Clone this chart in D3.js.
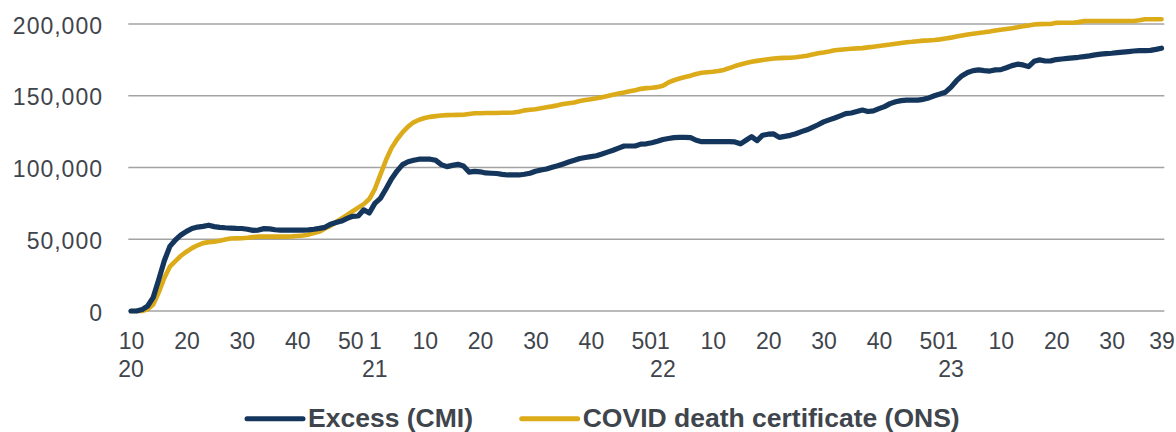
<!DOCTYPE html>
<html>
<head>
<meta charset="utf-8">
<script src="https://cdn.jsdelivr.net/npm/d3@7"></script>
<style>
  body { margin: 0; background: #fff; }
  svg { display: block; font-family: "Liberation Sans", Arial, sans-serif; }
</style>
</head>
<body>
<div id="canvas"></div>
<script>
// weeks shown per year (ISO weeks, 2020 has 53)
const years = ["20", "21", "22", "23"];
const firstWeek = [10, 1, 1, 1];
const lastWeek = [53, 52, 52, 39];
const tickWeeks = [1, 10, 20, 30, 40, 50];
const yTicks = [0, 50000, 100000, 150000, 200000];

// cumulative excess deaths (CMI)
const excess20 = [0, 0, 1000, 3500, 9500, 22000, 35000, 45000, 49500, 53000,
  55500, 57500, 58500, 59000, 59800, 58800, 58300, 58000, 57800, 57600,
  57500, 57000, 56200, 56400, 57400, 57200, 56600, 56300, 56300, 56300,
  56300, 56300, 56500, 57000, 57600, 58300, 60500, 61700, 62700, 64500,
  66000, 66200, 70500, 68300];
const excess21 = [75000, 78500, 85000, 92000, 97500, 102000, 104000, 105000, 105800, 105800,
  105800, 105000, 102000, 100600, 101500, 102200, 101000, 96800, 97300, 97000,
  96200, 96000, 95800, 95200, 94800, 94800, 94800, 95300, 96000, 97400,
  98300, 99000, 100200, 101200, 102500, 103800, 105000, 106300, 107000, 107600,
  108200, 109400, 110700, 112000, 113500, 115000, 115000, 115000, 116300, 116500,
  117300, 118300];
const excess22 = [119500, 120200, 120800, 121000, 121000, 120800, 119000, 118000, 118000, 118000,
  118000, 118000, 118000, 117800, 116500, 119000, 121500, 118700, 122500, 123200,
  123400, 121000, 121700, 122400, 123500, 125000, 126300, 128000, 129800, 131800,
  133200, 134500, 136000, 137500, 138000, 139000, 140000, 139000, 139500, 141000,
  142400, 144500, 145800, 146600, 147000, 147000, 147000, 147500, 148500, 150000,
  151200, 152500];
const excess23 = [156000, 160500, 164000, 166200, 167500, 168000, 167500, 167200, 168000, 168200,
  169500, 171000, 172000, 171500, 170300, 174000, 175000, 174200, 174300, 175200,
  175600, 176000, 176400, 176800, 177300, 177800, 178500, 179000, 179300, 179600,
  180000, 180400, 180800, 181200, 181400, 181400, 181600, 182300, 183100];

// cumulative deaths with COVID on the death certificate (ONS)
const ons20 = [0, 0, 0, 1200, 4500, 13000, 23000, 30900, 34800, 38500,
  41300, 43800, 45800, 47300, 48000, 48300, 49000, 49800, 50500, 50600,
  50700, 51000, 51500, 51800, 51800, 51800, 51800, 51800, 51800, 52000,
  52300, 52600, 53200, 54300, 55300, 57500, 59300, 62000, 64500, 67000,
  69500, 72000, 74500, 78000];
const ons21 = [85000, 95000, 105000, 113500, 119500, 124500, 128500, 131500, 133300, 134500,
  135300, 135800, 136200, 136500, 136600, 136700, 136800, 137300, 137800, 137800,
  138000, 138000, 138000, 138200, 138200, 138300, 138800, 139800, 140200, 140600,
  141300, 142000, 142600, 143300, 144200, 144800, 145300, 146300, 147000, 147600,
  148200, 149000, 149800, 150700, 151500, 152300, 153200, 153900, 154800, 155300,
  155600, 156000];
const ons22 = [157000, 159300, 160800, 162000, 163000, 164000, 165200, 166000, 166400, 166700,
  167200, 168000, 169300, 170700, 171800, 172800, 173700, 174300, 174900, 175500,
  176000, 176200, 176400, 176500, 176800, 177300, 177900, 178800, 179600, 180200,
  180900, 181700, 182100, 182400, 182700, 183000, 183200, 183700, 184200, 184700,
  185200, 185700, 186300, 186800, 187300, 187600, 188000, 188400, 188600, 188900,
  189300, 189900];
const ons23 = [190500, 191300, 192000, 192700, 193200, 193700, 194200, 194800, 195500, 196000,
  196500, 197000, 197700, 198500, 199000, 199600, 199900, 200000, 200000, 200800,
  200900, 200900, 200900, 201300, 202000, 202100, 202100, 202100, 202100, 202100,
  202100, 202100, 202100, 202100, 202600, 203300, 203300, 203300, 203300];

const seriesNames = ["Excess (CMI)", "COVID death certificate (ONS)"];
const colors = ["#15365c", "#dcab19"];

const weeks = [];
years.forEach((y, k) => {
  for (let w = firstWeek[k]; w <= lastWeek[k]; w++) weeks.push({ year: y, week: w, key: y + "-" + w });
});
const excess = [...excess20, ...excess21, ...excess22, ...excess23];
const ons = [...ons20, ...ons21, ...ons22, ...ons23];

const width = 1176;
const height = 432;
const margin = { top: 24, left: 128.3, bottom: 121, right: 11.7 };

const svg = d3.select("#canvas").append("svg")
  .attr("width", width)
  .attr("height", height);

const x = d3.scalePoint()
  .domain(weeks.map(d => d.key))
  .range([margin.left, width - margin.right])
  .padding(0.5);

const y = d3.scaleLinear()
  .domain([0, 200000])
  .range([height - margin.bottom, margin.top]);

const textColor = "#3f454c";

// gridlines
svg.append("g")
  .selectAll("line")
  .data(yTicks)
  .enter().append("line")
  .attr("x1", margin.left)
  .attr("x2", width - margin.right)
  .attr("y1", d => y(d))
  .attr("y2", d => y(d))
  .attr("stroke", "#a3a3a3")
  .attr("stroke-width", 1.5);

// y axis labels
const yAxis = svg.append("g")
  .attr("transform", `translate(103,0)`)
  .call(d3.axisLeft(y).tickValues(yTicks).tickSize(0).tickPadding(0).tickFormat(d3.format(",")));
yAxis.select(".domain").remove();
yAxis.selectAll("text")
  .attr("fill", textColor)
  .attr("font-size", 23)
  .attr("letter-spacing", 1)
  .attr("dy", "0.4em");

// x axis: week numbers, and year under the first week of each year
const tickKeys = weeks
  .filter((d, i) => i === 0 || i === weeks.length - 1 || tickWeeks.includes(d.week))
  .map(d => d.key);
const xAxis = svg.append("g")
  .attr("transform", `translate(0,${y(0)})`)
  .call(d3.axisBottom(x).tickValues(tickKeys).tickSize(0).tickPadding(0).tickFormat(k => k.split("-")[1]));
xAxis.select(".domain").remove();
xAxis.selectAll("text")
  .attr("fill", textColor)
  .attr("font-size", 23)
  .attr("y", 38.3)
  .attr("dy", 0)
  .attr("dx", k => (k.split("-")[1] === "50" ? -2.5 : 0));

const yearKeys = weeks.filter((d, i) => i === 0 || d.week === 1).map(d => d.key);
svg.append("g")
  .selectAll("text")
  .data(yearKeys)
  .enter().append("text")
  .attr("x", d => x(d))
  .attr("y", 376.7)
  .attr("text-anchor", "middle")
  .attr("font-size", 23)
  .attr("fill", textColor)
  .text(d => d.split("-")[0]);

// lines
const line = d3.line()
  .x((d, i) => x(weeks[i].key))
  .y(d => y(d));

[ons, excess].forEach((vals, k) => {
  svg.append("path")
    .datum(vals)
    .attr("fill", "none")
    .attr("stroke", k === 0 ? colors[1] : colors[0])
    .attr("stroke-width", k === 0 ? 4.6 : 5.2)
    .attr("stroke-linejoin", "round")
    .attr("stroke-linecap", "round")
    .attr("d", line);
});

// legend
const legendX = [247, 521.7];
const legend = svg.append("g")
  .selectAll("g")
  .data(seriesNames)
  .enter().append("g")
  .attr("transform", (d, i) => `translate(${legendX[i]},418.7)`);
legend.append("line")
  .attr("x1", 0)
  .attr("x2", 56)
  .attr("stroke", (d, i) => colors[i])
  .attr("stroke-width", 5)
  .attr("stroke-linecap", "round");
legend.append("text")
  .attr("x", 61)
  .attr("y", 8.5)
  .attr("font-size", 26.5)
  .attr("font-weight", "bold")
  .attr("fill", textColor)
  .text(d => d);
</script>
</body>
</html>
